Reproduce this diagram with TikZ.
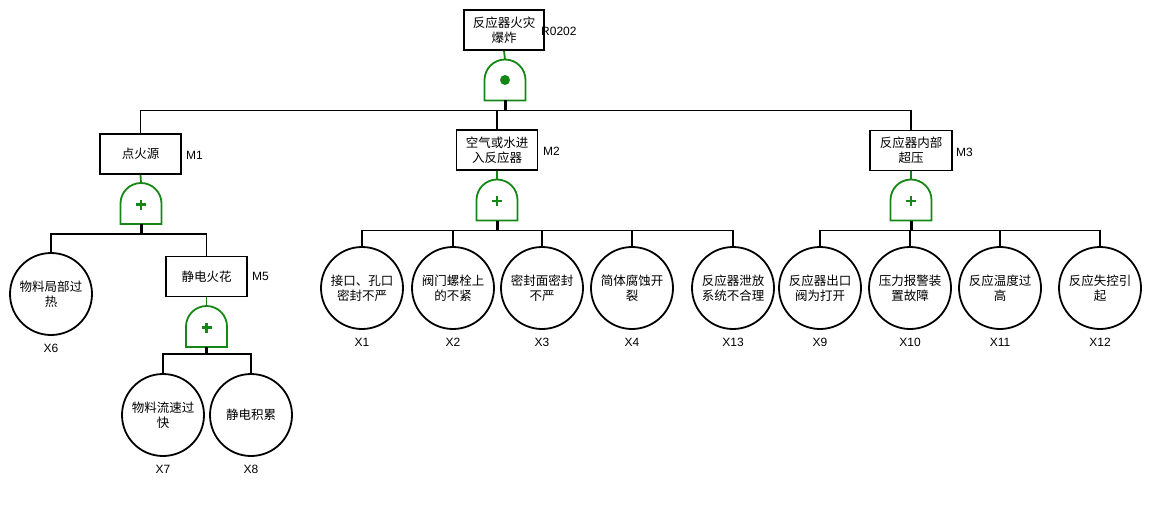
\documentclass[tikz,border=0pt]{standalone}
\usepackage{fontspec}
\setmainfont{Liberation Sans}
\newfontfamily\cjk{Noto Sans CJK SC}
\definecolor{gatecol}{RGB}{22,135,22}
\tikzset{
  evbox/.style={draw=black, line width=1.8pt, minimum width=81pt, minimum height=40pt, inner sep=1pt, align=center, font=\cjk\fontsize{12.5}{15}\selectfont},
  basic/.style={circle, draw=black, line width=1.8pt, minimum size=82pt, inner sep=0pt, align=center, font=\cjk\fontsize{12.5}{15}\selectfont},
  gatenode/.style={minimum width=41pt, minimum height=41pt, inner sep=0pt, outer sep=0pt},
  gateline/.style={draw=gatecol, line width=1.8pt},
  lbl/.style={font=\fontsize{12}{14}\selectfont, inner sep=0pt},
  conn/.style={draw=black, line width=1.8pt},
  stub/.style={draw=black, line width=3pt},
}
\newcommand{\orgate}[1]{%
  \draw[gateline] (#1.south west) -- (#1.west) arc[start angle=180,end angle=0,radius=20.5pt] -- (#1.south east) -- cycle;
  \draw[gateline, line width=2.2pt] ([xshift=-5pt,yshift=-1pt]#1.center) -- ([xshift=5pt,yshift=-1pt]#1.center)
                  ([yshift=-6pt]#1.center) -- ([yshift=4pt]#1.center);}
\newcommand{\andgate}[1]{%
  \draw[gateline] (#1.south west) -- (#1.west) arc[start angle=180,end angle=0,radius=20.5pt] -- (#1.south east) -- cycle;
  \fill[gatecol] (#1.center) circle (5pt);}
\begin{document}
\begin{tikzpicture}[x=1pt,y=1pt]
\path[use as bounding box] (0,0) rectangle (1150,-516);
% top event
\node[evbox, minimum width=80pt] (top) at (504,-30) {反应器火灾\\爆炸};
\node[lbl, anchor=west] (ltop) at (541,-31) {R0202};
\node[gatenode] (g0) at (505,-80) {};
\andgate{g0}
% intermediate events
\node[evbox] (m1) at (140.5,-154) {点火源};
\node[lbl, anchor=west] (lm1) at (186,-155) {M1};
\node[evbox] (m2) at (497,-150) {空气或水进\\入反应器};
\node[lbl, anchor=west] (lm2) at (543,-151) {M2};
\node[evbox, minimum width=82pt] (m3) at (911,-150.5) {反应器内部\\超压};
\node[lbl, anchor=west] (lm3) at (956,-152) {M3};
\node[gatenode] (g1) at (141,-203.5) {};
\orgate{g1}
\node[gatenode] (g2) at (497,-200) {};
\orgate{g2}
\node[gatenode] (g3) at (911,-200) {};
\orgate{g3}
\node[evbox] (m5) at (206.5,-276.5) {静电火花};
\node[lbl, anchor=west] (lm5) at (252,-276) {M5};
\node[gatenode] (g5) at (206.5,-326.5) {};
\orgate{g5}
% basic events
\node[basic] (x6) at (51,-294) {物料局部过\\热};
\node[basic] (x7) at (163,-415) {物料流速过\\快};
\node[basic] (x8) at (251,-415) {静电积累};
\node[basic] (x1) at (362,-288) {接口、孔口\\密封不严};
\node[basic] (x2) at (453,-288) {阀门螺栓上\\的不紧};
\node[basic] (x3) at (542,-288) {密封面密封\\不严};
\node[basic] (x4) at (632,-288) {简体腐蚀开\\裂};
\node[basic] (x13) at (733,-288) {反应器泄放\\系统不合理};
\node[basic] (x9) at (820,-288) {反应器出口\\阀为打开};
\node[basic] (x10) at (910,-288) {压力报警装\\置故障};
\node[basic] (x11) at (1000,-288) {反应温度过\\高};
\node[basic] (x12) at (1100,-288) {反应失控引\\起};
\foreach \n/\t in {x6/X6,x7/X7,x8/X8,x1/X1,x2/X2,x3/X3,x4/X4,x13/X13,x9/X9,x10/X10,x11/X11,x12/X12}{
  \node[lbl] (l\n) at ([yshift=-12pt]\n.south) {\t};
}
% box to gate
\foreach \b/\g in {top/g0,m1/g1,m2/g2,m3/g3,m5/g5}{
  \draw[gateline] (\b.south) -- (\g.north);
}
% gate stubs
\draw[stub] (g0.south) -- ++(0,-10) coordinate (b0);
\draw[stub] (g1.south) -- ++(0,-10) coordinate (b1);
\draw[stub] (g2.south) -- ++(0,-10) coordinate (b2);
\draw[stub] (g3.south) -- ++(0,-10) coordinate (b3);
\draw[stub] (g5.south) -- ++(0,-7) coordinate (b5);
% bars and drops
\draw[conn] (m1.north) |- (b0) -| (m3.north);
\draw[conn] (b0 -| m2.north) -- (m2.north);
\draw[conn] (x6.north) |- (b1) -| (m5.north);
\draw[conn] (x7.north) |- (b5) -| (x8.north);
\draw[conn] (x1.north) |- (b2) -| (x13.north);
\foreach \n in {x2,x3,x4}{\draw[conn] (b2 -| \n.north) -- (\n.north);}
\draw[conn] (x9.north) |- (b3) -| (x12.north);
\foreach \n in {x10,x11}{\draw[conn] (b3 -| \n.north) -- (\n.north);}
\end{tikzpicture}
\end{document}
